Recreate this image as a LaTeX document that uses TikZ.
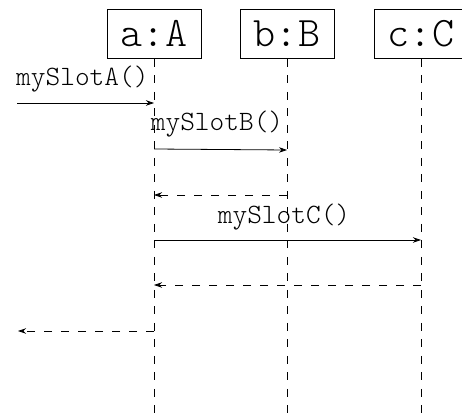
\documentclass[tikz,border=0pt]{standalone}
\usepackage{fontspec}
\setmonofont{Latin Modern Mono Light}
\usetikzlibrary{arrows.meta}
\begin{document}
\begin{tikzpicture}[x=1pt,y=-1pt,
  obj/.style={draw, line width=0.8pt, minimum width=94pt, minimum height=49pt, inner sep=0pt,
    font=\ttfamily\fontsize{42}{45}\selectfont},
  life/.style={line width=0.8pt, dash pattern=on 8pt off 8.5pt},
  msg/.style={line width=0.8pt, -{Stealth[length=8pt,width=5.5pt]}},
  ret/.style={msg, dash pattern=on 8.5pt off 8.5pt},
  lbl/.style={inner sep=0pt, font=\ttfamily\fontsize{28}{31}\selectfont}]
\useasboundingbox (0,0) rectangle (462,419);
\clip (0,0) rectangle (462,419);
% objects
\node[obj] (a) at (154,34) {a:A};
\node[obj] (b) at (287,34) {b:B};
\node[obj] (c) at (421,34) {c:C};
% lifelines
\coordinate (aend) at (154,420);
\coordinate (bend) at (287,420);
\coordinate (cend) at (421,420);
\draw[life] (a.south) -- (aend);
\draw[life] (b.south) -- (bend);
\draw[life] (c.south) -- (cend);
% message points
\coordinate (inA) at (17,103);
\coordinate (a1) at (154,103);
\coordinate (a2) at (154,149);
\coordinate (b2) at (287,150);
\coordinate (b3) at (287,195);
\coordinate (a3) at (154,195);
\coordinate (a4) at (154,240);
\coordinate (c4) at (421,240);
\coordinate (c5) at (421,285);
\coordinate (a5) at (154,285);
\coordinate (a6) at (154,331);
\coordinate (out) at (18,331);
% messages
\draw[msg] (inA) -- (a1);
\node[lbl, anchor=base west] (lA) at (16,86) {mySlotA()};
\draw[msg] (a2) -- (b2);
\node[lbl, anchor=base] (lB) at (217,131) {mySlotB()};
\draw[ret] (b3) -- (a3);
\draw[msg] (a4) -- (c4);
\node[lbl, anchor=base] (lC) at (284,223) {mySlotC()};
\draw[ret] (c5) -- (a5);
\draw[ret] (a6) -- (out);
\end{tikzpicture}
\end{document}
